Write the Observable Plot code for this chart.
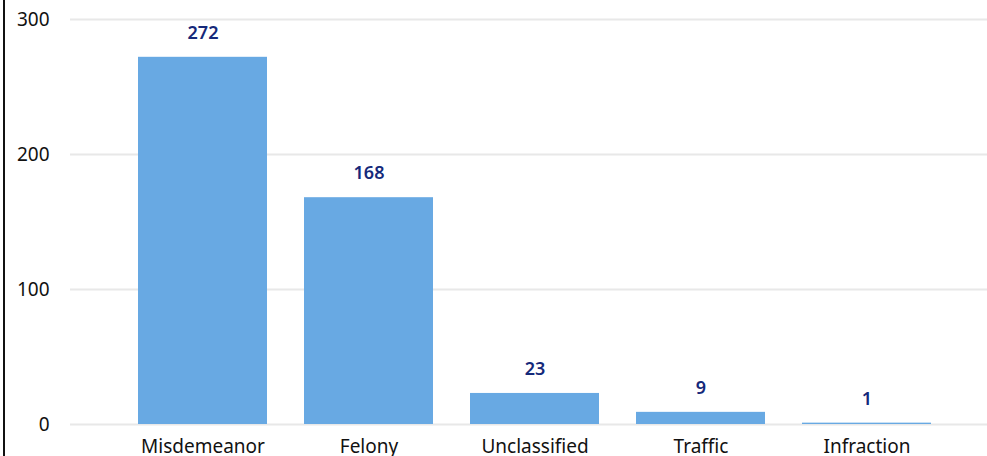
<!DOCTYPE html>
<html>
<head>
<meta charset="utf-8">
<script src="https://cdn.jsdelivr.net/npm/d3@7"></script>
<script src="https://cdn.jsdelivr.net/npm/@observablehq/plot@0.6"></script>
<style>
  html, body { margin: 0; padding: 0; background: #fff; }
  #wrap { position: relative; width: 987px; height: 456px; overflow: hidden; }
  #border { position: absolute; left: 3px; top: 0; width: 2px; height: 456px; background: #111; }
</style>
</head>
<body>
<div id="wrap"><div id="chart"></div><div id="border"></div></div>
<script>
const categories = ["Misdemeanor", "Felony", "Unclassified", "Traffic", "Infraction"];
const counts = [272, 168, 23, 9, 1];
const yTicks = [0, 100, 200, 300];

const data = categories.map((c, i) => ({category: c, count: counts[i]}));

const chart = Plot.plot({
  width: 987,
  height: 456,
  marginLeft: 70,
  marginRight: 0,
  marginTop: 19,
  marginBottom: 32,
  style: {fontFamily: "'Noto Sans', sans-serif", background: "#fff"},
  x: {domain: categories, range: [100, 968], padding: 0.224, label: null},
  y: {domain: [0, 300], label: null},
  marks: [
    Plot.ruleY(yTicks, {stroke: "#e8e8e8", strokeWidth: 2}),
    Plot.barY(data, {x: "category", y: "count", fill: "#68a9e3"}),
    Plot.text(data, {x: "category", y: "count", text: d => String(d.count), dy: -24,
      fill: "#15297a", fontSize: 18, fontWeight: 600}),
    Plot.axisY({ticks: yTicks, tickSize: 0, tickPadding: 21, fontSize: 19, fill: "#111", label: null}),
    Plot.axisX({tickSize: 0, tickPadding: 15, fontSize: 19, fill: "#111", label: null})
  ]
});
document.getElementById("chart").appendChild(chart);
</script>
</body>
</html>
